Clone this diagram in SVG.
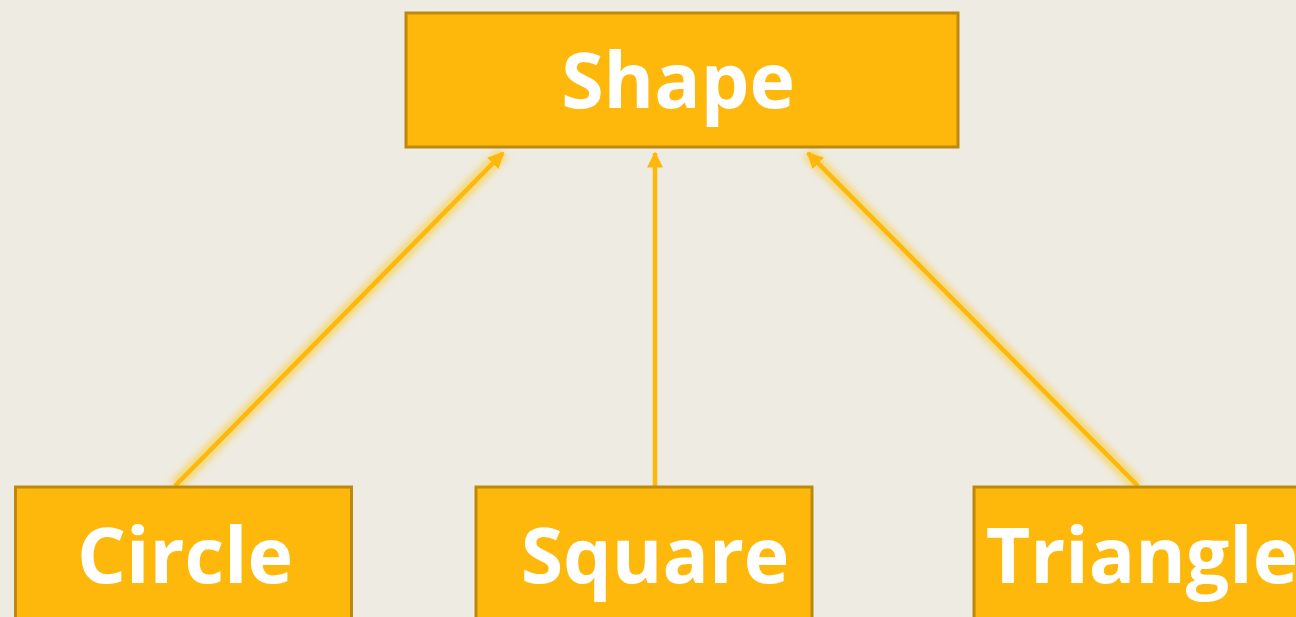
<svg xmlns="http://www.w3.org/2000/svg" width="1296" height="617" viewBox="0 0 1296 617">
<defs>
<style>
.box{fill:#FDB80B;stroke:#BE880C;stroke-width:3}
.lbl{font-family:"Open Sans","DejaVu Sans",sans-serif;font-weight:700;font-size:77px;fill:#FFFFFF;text-anchor:middle}
.edge{stroke:#FDB80B;stroke-width:4.5;fill:none;marker-end:url(#arr)}
.glow{stroke:#F8CE3C;stroke-width:14;fill:none;opacity:0.6;filter:url(#blur)}
</style>
<filter id="blur" x="-20%" y="-20%" width="140%" height="140%"><feGaussianBlur stdDeviation="3"/></filter>
<marker id="arr" viewBox="0 0 10 10" refX="9" refY="5" markerWidth="3.6" markerHeight="3.6" orient="auto" markerUnits="strokeWidth"><path d="M0,0 L10,5 L0,10 z" fill="#FDB80B"/></marker>
</defs>
<rect width="1296" height="617" fill="#EEEBE3"/>
<g id="connectors">
<line class="glow" x1="175" y1="486" x2="503" y2="153"/>
<line class="glow" x1="655" y1="486" x2="655" y2="153"/>
<line class="glow" x1="1138" y1="486" x2="808" y2="153"/>
<line class="edge" x1="175" y1="486" x2="503" y2="153"/>
<line class="edge" x1="655" y1="486" x2="655" y2="153"/>
<line class="edge" x1="1138" y1="486" x2="808" y2="153"/>
</g>
<g id="shape">
<rect class="box" x="406" y="13" width="552" height="134"/>
<text class="lbl" x="678" y="108">Shape</text>
</g>
<g id="circle">
<rect class="box" x="15.5" y="487" width="336" height="140"/>
<text class="lbl" x="185" y="583">Circle</text>
</g>
<g id="square">
<rect class="box" x="476" y="487" width="336" height="140"/>
<text class="lbl" x="655" y="583">Square</text>
</g>
<g id="triangle">
<rect class="box" x="974" y="487" width="336" height="140"/>
<text class="lbl" x="1142" y="583">Triangle</text>
</g>
</svg>
